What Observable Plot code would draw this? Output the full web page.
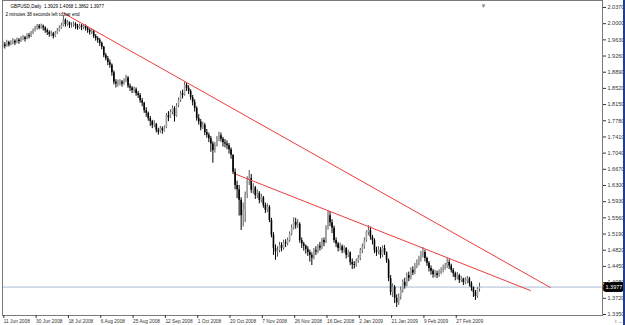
<!DOCTYPE html>
<html><head><meta charset="utf-8">
<script src="https://cdn.jsdelivr.net/npm/d3@7"></script>
<script src="https://cdn.jsdelivr.net/npm/@observablehq/plot@0.6"></script>
<style>
html,body{margin:0;padding:0;background:#fff;overflow:hidden}
#wrap{position:relative;width:625px;height:325px}
#edge{position:absolute;right:0;top:0;width:2px;height:325px;background:#1f3f8f}
</style></head><body><div id="wrap"><div id="chart"></div><div id="edge"></div></div>
<script>
// GBPUSD daily bars (one per bar, oldest first)
const closes = [
1.952,1.948,1.957,1.951,1.955,1.960,1.956,1.962,1.959,1.965,
1.968,1.964,1.973,1.970,1.978,1.984,1.989,1.994,1.990,1.994,
1.990,1.984,1.980,1.975,1.977,1.971,1.978,1.984,1.990,1.996,
2.008,1.998,2.002,1.996,1.996,1.999,1.994,1.990,1.995,1.991,
1.994,1.989,1.985,1.980,1.983,1.971,1.966,1.962,1.955,1.946,
1.927,1.920,1.911,1.905,1.888,1.866,1.862,1.863,1.866,1.862,
1.868,1.876,1.857,1.853,1.847,1.849,1.840,1.836,1.824,1.818,
1.801,1.795,1.783,1.776,1.767,1.770,1.756,1.752,1.760,1.755,
1.762,1.790,1.785,1.797,1.806,1.788,1.812,1.824,1.840,1.836,
1.859,1.852,1.845,1.831,1.820,1.806,1.783,1.775,1.762,1.768,
1.751,1.745,1.737,1.725,1.710,1.721,1.735,1.744,1.736,1.728,
1.725,1.721,1.712,1.699,1.660,1.630,1.620,1.596,1.561,1.573,
1.607,1.641,1.646,1.619,1.625,1.607,1.612,1.596,1.602,1.584,
1.573,1.580,1.550,1.516,1.486,1.478,1.481,1.493,1.486,1.499,
1.497,1.504,1.519,1.532,1.546,1.538,1.541,1.504,1.496,1.491,
1.484,1.477,1.470,1.464,1.481,1.478,1.491,1.487,1.504,1.499,
1.532,1.561,1.545,1.532,1.504,1.496,1.486,1.490,1.481,1.486,
1.470,1.476,1.454,1.449,1.447,1.456,1.463,1.481,1.490,1.504,
1.522,1.527,1.512,1.504,1.481,1.477,1.483,1.470,1.486,1.476,
1.458,1.417,1.385,1.397,1.372,1.362,1.375,1.390,1.408,1.400,
1.424,1.418,1.436,1.430,1.447,1.452,1.463,1.470,1.477,1.463,
1.452,1.440,1.434,1.426,1.428,1.424,1.430,1.436,1.440,1.445,
1.454,1.446,1.436,1.428,1.420,1.424,1.413,1.416,1.408,1.412,
1.417,1.406,1.396,1.385,1.376,1.3929,1.3977
];
const highs = [
1.960,1.957,1.962,1.960,1.961,1.966,1.963,1.967,1.966,1.970,
1.973,1.971,1.977,1.978,1.982,1.988,1.994,1.998,1.998,1.999,
1.997,1.993,1.988,1.984,1.983,1.980,1.982,1.989,1.995,2.001,
2.019,2.011,2.007,2.004,2.002,2.004,2.002,1.998,1.999,1.998,
1.998,1.997,1.993,1.988,1.988,1.985,1.975,1.970,1.966,1.958,
1.948,1.932,1.925,1.917,1.908,1.892,1.872,1.871,1.872,1.870,
1.874,1.882,1.879,1.862,1.856,1.855,1.853,1.845,1.840,1.829,
1.820,1.808,1.798,1.788,1.779,1.778,1.772,1.761,1.765,1.764,
1.766,1.795,1.799,1.803,1.812,1.810,1.817,1.830,1.845,1.848,
1.866,1.864,1.858,1.849,1.836,1.826,1.810,1.792,1.781,1.775,
1.772,1.758,1.750,1.742,1.730,1.728,1.742,1.752,1.750,1.740,
1.735,1.732,1.726,1.716,1.700,1.668,1.640,1.630,1.602,1.590,
1.615,1.650,1.664,1.655,1.634,1.628,1.620,1.616,1.610,1.605,
1.590,1.588,1.584,1.555,1.522,1.494,1.490,1.500,1.499,1.505,
1.506,1.510,1.524,1.540,1.556,1.555,1.552,1.545,1.510,1.500,
1.494,1.490,1.482,1.476,1.486,1.490,1.495,1.500,1.509,1.510,
1.538,1.573,1.570,1.552,1.537,1.510,1.500,1.498,1.494,1.492,
1.488,1.482,1.478,1.462,1.456,1.462,1.470,1.486,1.496,1.510,
1.526,1.538,1.535,1.516,1.508,1.489,1.490,1.488,1.492,1.493,
1.478,1.462,1.424,1.405,1.401,1.380,1.382,1.398,1.414,1.418,
1.430,1.432,1.442,1.444,1.452,1.460,1.468,1.479,1.488,1.482,
1.466,1.456,1.446,1.438,1.436,1.434,1.437,1.442,1.448,1.452,
1.463,1.460,1.450,1.440,1.432,1.431,1.427,1.422,1.418,1.419,
1.422,1.420,1.410,1.398,1.390,1.396,1.4068
];
const lows = [
1.944,1.942,1.946,1.947,1.949,1.952,1.950,1.954,1.953,1.957,
1.961,1.958,1.963,1.965,1.968,1.975,1.981,1.985,1.986,1.987,
1.983,1.978,1.973,1.969,1.970,1.965,1.968,1.975,1.981,1.987,
1.993,1.992,1.994,1.989,1.990,1.992,1.987,1.985,1.987,1.984,
1.986,1.983,1.978,1.974,1.975,1.966,1.960,1.955,1.948,1.940,
1.922,1.915,1.904,1.898,1.880,1.860,1.853,1.855,1.858,1.855,
1.859,1.865,1.852,1.845,1.840,1.841,1.834,1.829,1.818,1.810,
1.795,1.786,1.777,1.765,1.760,1.762,1.750,1.745,1.749,1.747,
1.752,1.760,1.776,1.783,1.792,1.775,1.786,1.808,1.820,1.828,
1.834,1.845,1.838,1.825,1.812,1.798,1.777,1.768,1.755,1.758,
1.744,1.738,1.728,1.706,1.681,1.704,1.718,1.730,1.729,1.718,
1.716,1.712,1.702,1.690,1.655,1.620,1.600,1.560,1.527,1.535,
1.545,1.600,1.630,1.612,1.610,1.598,1.600,1.588,1.590,1.578,
1.566,1.568,1.545,1.510,1.470,1.459,1.466,1.476,1.478,1.482,
1.488,1.492,1.500,1.515,1.528,1.530,1.532,1.498,1.486,1.480,
1.473,1.468,1.455,1.447,1.460,1.470,1.474,1.480,1.483,1.490,
1.497,1.528,1.536,1.520,1.498,1.488,1.478,1.480,1.474,1.475,
1.462,1.465,1.447,1.438,1.439,1.443,1.452,1.458,1.474,1.484,
1.500,1.515,1.505,1.494,1.474,1.468,1.472,1.462,1.465,1.470,
1.452,1.410,1.378,1.374,1.360,1.351,1.356,1.368,1.384,1.393,
1.398,1.410,1.414,1.424,1.426,1.440,1.446,1.455,1.464,1.455,
1.445,1.432,1.425,1.418,1.419,1.417,1.420,1.426,1.430,1.436,
1.440,1.438,1.430,1.420,1.412,1.414,1.406,1.408,1.401,1.403,
1.405,1.398,1.388,1.374,1.367,1.372,1.3862
];
const firstOpen = 1.947;

const dateLabels = ["11 Jun 2008","30 Jun 2008","18 Jul 2008","6 Aug 2008","25 Aug 2008","12 Sep 2008","1 Oct 2008","20 Oct 2008","7 Nov 2008","26 Nov 2008","16 Dec 2008","2 Jan 2009","21 Jan 2009","9 Feb 2009","27 Feb 2009"];
const dateTickBars = [0,16,32,48,64,80,96,112,128,144,160,176,192,208,224];
const priceTicks = [2.0370,2.0000,1.9630,1.9260,1.8890,1.8520,1.8150,1.7780,1.7410,1.7040,1.6670,1.6300,1.5930,1.5560,1.5190,1.4820,1.4450,1.4080,1.3720,1.3350];
const currentPrice = 1.3977;
// trend lines: [bar index, price]
const trendLine1 = [[29.5, 2.0256],[271.1, 1.3967]];
const trendLine2 = [[115.7, 1.6551],[261.2, 1.3898]];
const header1 = "GBPUSD,Daily  1.3929 1.4068 1.3862 1.3977";
const header2 = "2 minutes 38 seconds left to bar end";

const bars = closes.map((c, i) => {
  const o = i ? closes[i - 1] : firstOpen;
  return {i, o, c, h: Math.max(highs[i], o, c), l: Math.min(lows[i], o, c), bull: c >= o};
});
const labelOf = new Map(dateTickBars.map((b, k) => [b, dateLabels[k]]));

const chart = Plot.plot({
  width: 625, height: 325,
  marginLeft: 2, marginRight: 23, marginTop: 0, marginBottom: 10,
  x: {domain: [-0.15, 296.9], axis: null},
  y: {domain: [1.33271, 2.05301], axis: null},
  style: {fontFamily: "'Liberation Sans', Arial, sans-serif", background: "#fff", color: "#333"},
  marks: [
    Plot.ruleY([currentPrice], {stroke: "#a9bbd6", strokeWidth: 1}),
    Plot.ruleX(bars, {x: "i", y1: "l", y2: "h", stroke: d => d.bull ? "#555" : "#000", strokeWidth: 1}),
    Plot.ruleX(bars, {x: "i", y1: "o", y2: "c", stroke: d => d.bull ? "#a0a0a0" : "#000", strokeWidth: 1.6}),
    Plot.line(trendLine1, {x: d => d[0], y: d => d[1], stroke: "#f03c3c", strokeWidth: 1}),
    Plot.line(trendLine2, {x: d => d[0], y: d => d[1], stroke: "#f03c3c", strokeWidth: 1}),
    Plot.frame({stroke: "#7a7a7a"}),
    Plot.axisY(priceTicks, {anchor: "right", tickSize: 3, tickPadding: 2, fontSize: 5.5, tickFormat: d => d.toFixed(4)}),
    Plot.axisX(dateTickBars, {anchor: "bottom", tickSize: 3, tickPadding: 1, fontSize: 4.8, textAnchor: "start", dx: 1, tickFormat: d => labelOf.get(d)}),
    Plot.text([currentPrice], {y: d => d, frameAnchor: "right", dx: 3, textAnchor: "start", text: d => d.toFixed(4), fill: "#fff", stroke: "#000", strokeWidth: 6, fontSize: 5.5}),
    Plot.text(["▼"], {x: closes.length + 1, frameAnchor: "top", dy: 3, text: d => d, fill: "#888", fontSize: 6}),
    Plot.text([header1], {frameAnchor: "top-left", dx: 8, dy: 4, text: d => d, fontSize: 4.6, fill: "#000", textAnchor: "start"}),
    Plot.text([header2], {frameAnchor: "top-left", dx: 3, dy: 12, text: d => d, fontSize: 4.6, fill: "#000", textAnchor: "start"})
  ]
});
document.getElementById("chart").appendChild(chart);
</script></body></html>
